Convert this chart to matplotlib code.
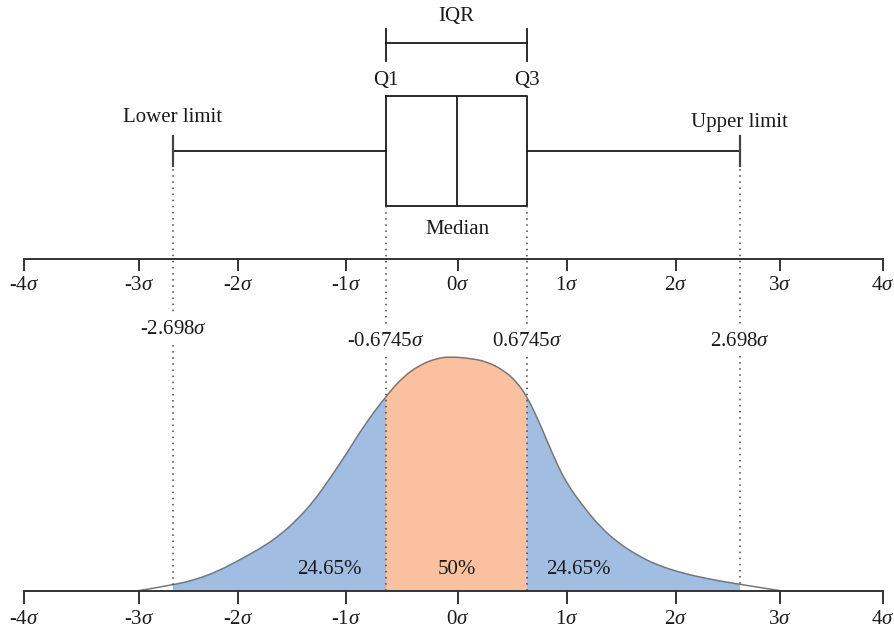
"""Box plot vs. normal curve: IQR, quartiles and 1.5*IQR limits against sigma positions."""
import matplotlib
matplotlib.use("Agg")
import matplotlib.pyplot as plt  # noqa: E402
import numpy as np  # noqa: E402
from matplotlib.patches import PathPatch, Rectangle  # noqa: E402
from matplotlib.path import Path  # noqa: E402

plt.rcParams["font.family"] = ["Liberation Serif", "DejaVu Serif"]
plt.rcParams["mathtext.fontset"] = "custom"
plt.rcParams["mathtext.rm"] = "Liberation Serif"
plt.rcParams["mathtext.it"] = "Liberation Serif:italic"

# --- data (sigma units) ---
tick_values = [-4, -3, -2, -1, 0, 1, 2, 3, 4]
tick_pos = [-4.0, -2.929, -2.007, -1.001, 0.042, 1.057, 2.072, 3.040, 4.0]   # drawn spacing is uneven
tick_labels = [f"{v}$\\sigma$" for v in tick_values]

lower_limit, q1, median, q3, upper_limit = -2.612, -0.628, 0.033, 0.684, 2.667
mark_pos = [lower_limit, q1, q3, upper_limit]
mark_labels = ["-2.698$\\sigma$", "-0.6745$\\sigma$", "0.6745$\\sigma$", "2.698$\\sigma$"]

curve_x = np.array([-2.935, -2.612, -2.391, -2.205, -2.004, -1.771, -1.615, -1.460, -1.305,
                    -1.150, -0.994, -0.840, -0.628, -0.467, -0.312, -0.156, -0.033, 0.154,
                    0.309, 0.464, 0.588, 0.684, 0.775, 0.868, 0.961, 1.054, 1.209, 1.364,
                    1.520, 1.706, 1.892, 2.140, 2.388, 2.667, 3.040])
curve_h = np.array([0.0, 0.024, 0.049, 0.081, 0.128, 0.188, 0.238, 0.302, 0.380,
                    0.480, 0.587, 0.701, 0.832, 0.915, 0.965, 0.993, 1.0, 0.993,
                    0.979, 0.943, 0.893, 0.829, 0.744, 0.644, 0.544, 0.459, 0.359, 0.274,
                    0.209, 0.153, 0.110, 0.074, 0.049, 0.027, 0.0])   # relative to peak
pct_labels = ["24.65%", "50%", "24.65%"]
pct_pos = [-1.16, 0.03, 1.16]

# --- layout (y in figure pixels, top = 0) ---
W, H = 894, 633
PX_PER_SIGMA, X0_PX = 107.4, 453.5
TOP_AXIS_Y, BASE_Y, PEAK_PX = 259, 590.7, 234
BOX_Y, BOX_H = 151, 110
INK, AXC = "#1a1a1a", "#333333"
BLUE, ORANGE, OUTLINE = "#a1bee2", "#fac1a0", "#777777"
FS = 15

fig = plt.figure(figsize=(W / 100, H / 100), dpi=100)
ax = fig.add_axes([0, 0, 1, 1])
ax.set_xlim(-X0_PX / PX_PER_SIGMA, (W - X0_PX) / PX_PER_SIGMA)
ax.set_ylim(H, 0)
ax.axis("off")

# box plot
stats = [dict(med=median, q1=q1, q3=q3, whislo=lower_limit, whishi=upper_limit, fliers=[])]
ax.bxp(stats, positions=[BOX_Y], widths=[BOX_H], capwidths=[30], orientation="horizontal",
       showfliers=False, manage_ticks=False,
       boxprops=dict(color=INK, lw=1.3), medianprops=dict(color=INK, lw=1.3),
       whiskerprops=dict(color=INK, lw=1.3), capprops=dict(color="#444444", lw=1.6))

# IQR bracket
ax.plot([q1, q3], [43, 43], color=INK, lw=1.3)
for xq in (q1, q3):
    ax.plot([xq, xq], [29, 61], color=INK, lw=1.3)
ax.text((q1 + q3) / 2, 17, "IQR", ha="center", va="center", fontsize=FS, color=INK)
ax.text(q1, 81, "Q1", ha="center", va="center", fontsize=FS, color=INK)
ax.text(q3, 81, "Q3", ha="center", va="center", fontsize=FS, color=INK)
ax.text(median, 229, "Median", ha="center", va="center", fontsize=FS, color=INK)
ax.text(lower_limit, 118, "Lower limit", ha="center", va="center", fontsize=FS, color=INK)
ax.text(upper_limit, 123, "Upper limit", ha="center", va="center", fontsize=FS, color=INK)

# both sigma axes
for ya, tick_len, lab_y in ((TOP_AXIS_Y, 11, 285), (BASE_Y, 12, 620)):
    ax.plot([tick_pos[0], tick_pos[-1]], [ya, ya], color=AXC, lw=1.4, zorder=4, solid_capstyle="butt")
    for tp, tl in zip(tick_pos, tick_labels):
        ax.plot([tp, tp], [ya, ya + tick_len], color=AXC, lw=1.4, zorder=4)
        ax.text(tp, lab_y, tl, ha="center", va="center", fontsize=FS, color=INK)

# curve: read points used as quadratic-Bezier control points for a smooth outline
curve_y = BASE_Y - curve_h * PEAK_PX
pts = np.column_stack([curve_x, curve_y])
mids = (pts[1:-2] + pts[2:-1]) / 2
verts = [pts[0]]
codes = [Path.MOVETO]
for ctrl, end in zip(pts[1:-2], mids):
    verts += [ctrl, end]
    codes += [Path.CURVE3, Path.CURVE3]
verts += [pts[-2], pts[-1]]
codes += [Path.CURVE3, Path.CURVE3]
outline = Path(verts, codes)
area = Path(verts + [(curve_x[-1], BASE_Y), (curve_x[0], BASE_Y), pts[0]],
            codes + [Path.LINETO, Path.LINETO, Path.CLOSEPOLY])

for lo, hi, col in ((lower_limit, upper_limit, BLUE), (q1, q3, ORANGE)):
    fill = PathPatch(area, facecolor=col, edgecolor="none", zorder=1)
    ax.add_patch(fill)
    fill.set_clip_path(Rectangle((lo, 0), hi - lo, H, transform=ax.transData))
ax.add_patch(PathPatch(outline, facecolor="none", edgecolor=OUTLINE, lw=1.1, zorder=2))

for xp, lab in zip(pct_pos, pct_labels):
    ax.text(xp, 570, lab, ha="center", va="center", fontsize=FS, color=INK, zorder=3)

# dotted guides and sigma labels of the marks
dot = dict(color="#444444", lw=1.1, ls=(0, (1, 3)), zorder=3)
mark_top = [163, 206, 206, 163]
mark_lab_y = [330, 342, 342, 341]
for xp, lab, yt, yl in zip(mark_pos, mark_labels, mark_top, mark_lab_y):
    y_end = BASE_Y - np.interp(xp, curve_x, curve_h) * PEAK_PX
    if xp in (q1, q3):
        y_end = BASE_Y
    ax.plot([xp, xp], [yt, yl - 16], **dot)
    ax.plot([xp, xp], [yl + 15, y_end], **dot)
    ax.text(xp, yl, lab, ha="center", va="center", fontsize=FS, color=INK)

fig.savefig("out.png", dpi=100)
